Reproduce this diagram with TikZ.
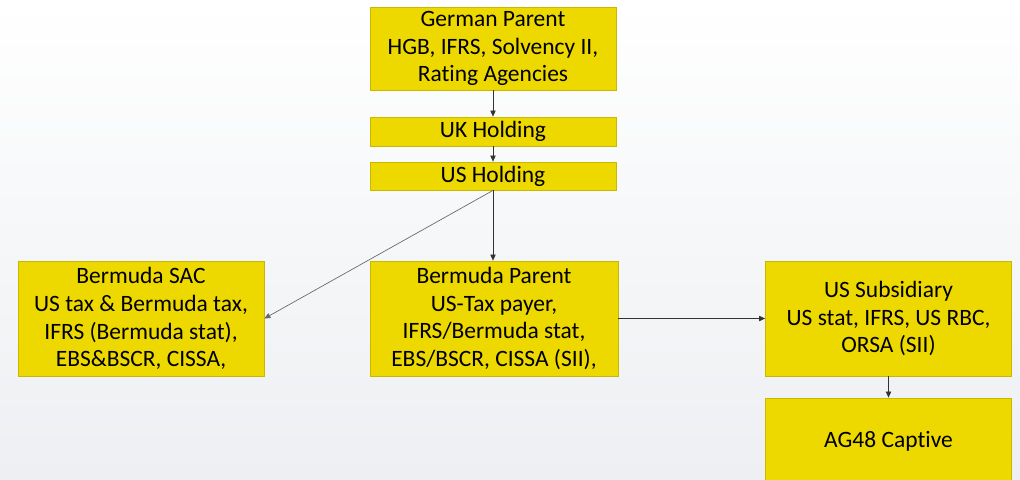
\documentclass[tikz,border=0pt]{standalone}
\usepackage{fontspec}
\setmainfont{Carlito}[Ligatures=NoCommon]
\usetikzlibrary{arrows.meta}
\definecolor{boxyellow}{HTML}{EDD900}
\definecolor{boxline}{HTML}{C9B800}
\definecolor{bgbottom}{HTML}{EDEFF2}
\begin{document}
\begin{tikzpicture}[x=0.75pt, y=-0.75pt,
    entity/.style={draw=boxline, fill=boxyellow, line width=0.6pt, align=center,
      minimum width=184.5pt, inner sep=0pt, font=\fontsize{17.6}{20.8}\selectfont},
    link/.style={-{Triangle[length=4.5pt,width=4pt]}, line width=0.5pt, draw=black!80}]
\shade[top color=white, bottom color=bgbottom] (0,0) rectangle (1020,479);
\useasboundingbox (0,0) rectangle (1020,479);

% holding chain
\node[entity, minimum height=62.25pt] (german) at (493, 48.5) {German Parent\\HGB, IFRS, Solvency II,\\Rating Agencies};
\node[entity, minimum height=21.75pt] (ukhold) at (493, 131.5) {UK Holding};
\node[entity, minimum height=21pt] (ushold) at (493, 176) {US Holding};

% bermuda entities
\node[entity, minimum height=86.25pt] (sac) at (141, 318.5) {Bermuda SAC\\US tax \& Bermuda tax,\\IFRS (Bermuda stat),\\EBS\&BSCR, CISSA,};
\node[entity, minimum height=86.25pt, minimum width=186pt] (bmparent) at (494, 318.5) {Bermuda Parent\\US-Tax payer,\\IFRS/Bermuda stat,\\EBS/BSCR, CISSA (SII),};

% us entities
\node[entity, minimum height=86.25pt] (ussub) at (888.5, 318.5) {US Subsidiary\\US stat, IFRS, US RBC,\\ORSA (SII)};
\begin{scope}
\clip (0,0) rectangle (1020,479);
\node[entity, minimum height=64.5pt] (captive) at (888.5, 441) {AG48 Captive};
\end{scope}

\draw[link] (german) -- (ukhold);
\draw[link] (ukhold) -- (ushold);
\draw[link] (ushold.south) -- (bmparent.north -| ushold.south);
\draw[link, draw=black!60] (ushold.south) -- (sac.east);
\draw[link] (bmparent) -- (ussub);
\draw[link] (ussub) -- (captive);
\end{tikzpicture}
\end{document}
